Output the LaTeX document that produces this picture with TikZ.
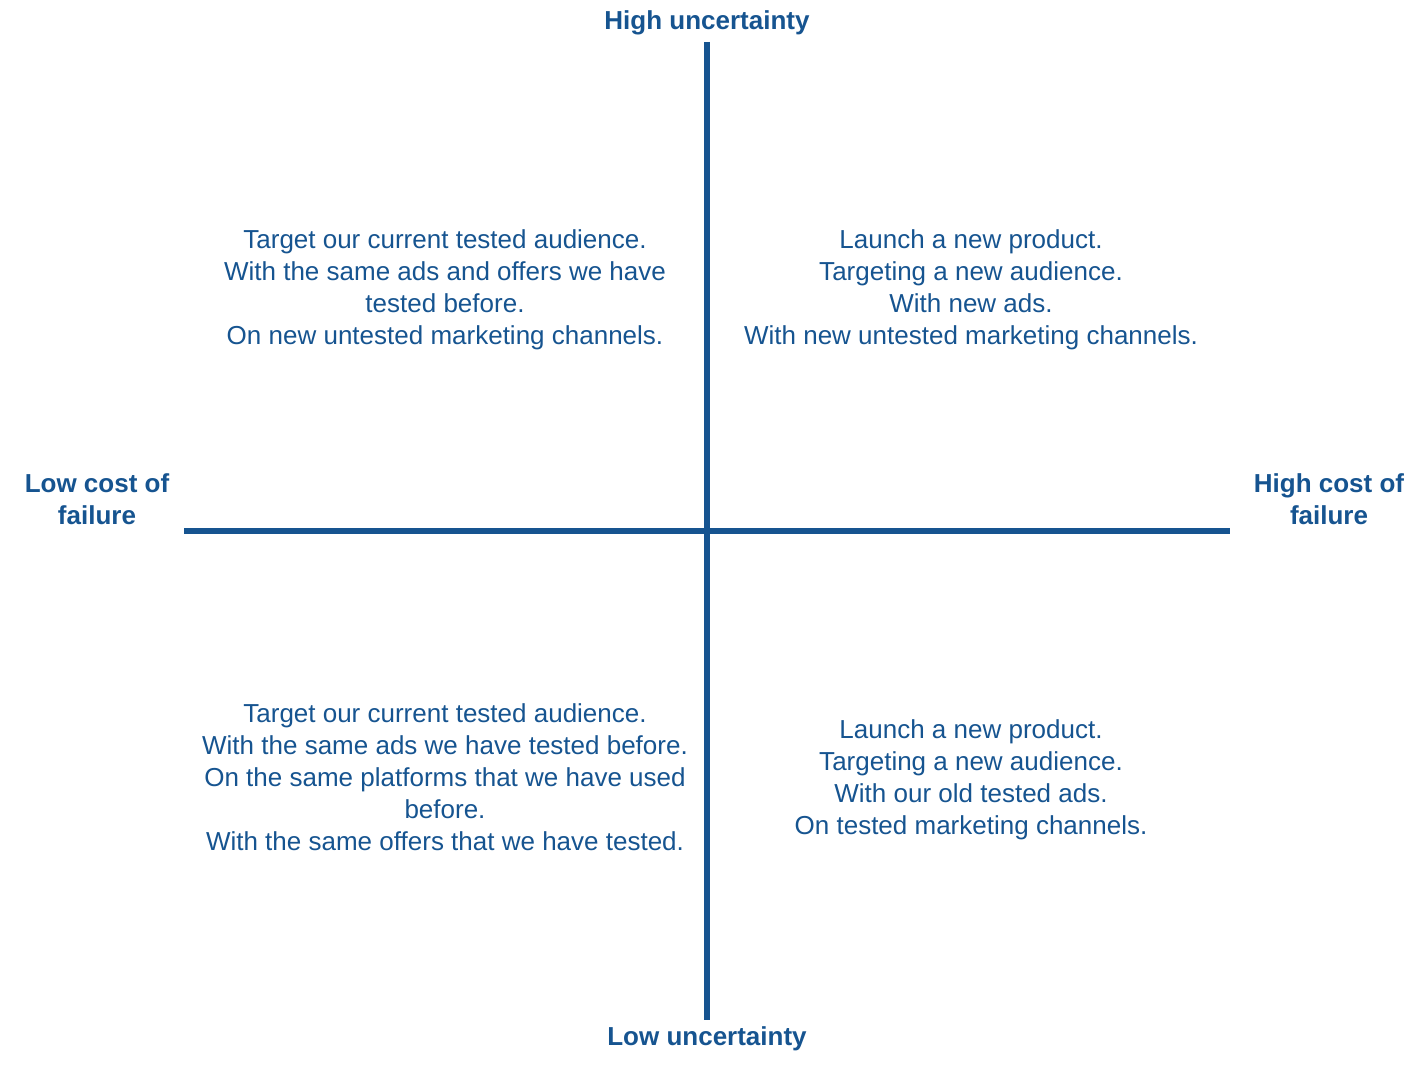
\documentclass[tikz,border=0pt]{standalone}
\usepackage{fontspec}
\setmainfont{Liberation Sans}
\definecolor{axisblue}{RGB}{22,84,144}

\begin{document}
\begin{tikzpicture}[x=0.02cm,y=-0.02cm,
    axis/.style={draw=axisblue,line width=3.4pt},
    axislabel/.style={text=axisblue,font=\fontsize{14.8}{18.2}\selectfont\bfseries,align=center,inner sep=0pt},
    quadtext/.style={text=axisblue,font=\fontsize{14.8}{18.2}\selectfont,align=center,inner sep=0pt}]
    \useasboundingbox (0,0) rectangle (1422,1064);
    \coordinate (top) at (707,42);
    \coordinate (bottom) at (707,1020);
    \coordinate (left) at (184,531);
    \coordinate (right) at (1230,531);
    \draw[axis] (top) -- (bottom);
    \draw[axis] (left) -- (right);
    % axis labels
    \node[axislabel] (hu) at (707,23) {High uncertainty};
    \node[axislabel] (lu) at (707,1039) {Low uncertainty};
    \node[axislabel] (lc) at (97,499) {Low cost of\\failure};
    \node[axislabel] (hc) at (1329,499) {High cost of\\failure};
    % quadrants
    \node[quadtext] (tl) at (445,290) {Target our current tested audience.\\With the same ads and offers we have\\tested before.\\On new untested marketing channels.};
    \node[quadtext] (tr) at (971,290) {Launch a new product.\\Targeting a new audience.\\With new ads.\\With new untested marketing channels.};
    \node[quadtext] (bl) at (445,777) {Target our current tested audience.\\With the same ads we have tested before.\\On the same platforms that we have used\\before.\\With the same offers that we have tested.};
    \node[quadtext] (br) at (971,780) {Launch a new product.\\Targeting a new audience.\\With our old tested ads.\\On tested marketing channels.};
\end{tikzpicture}
\end{document}
